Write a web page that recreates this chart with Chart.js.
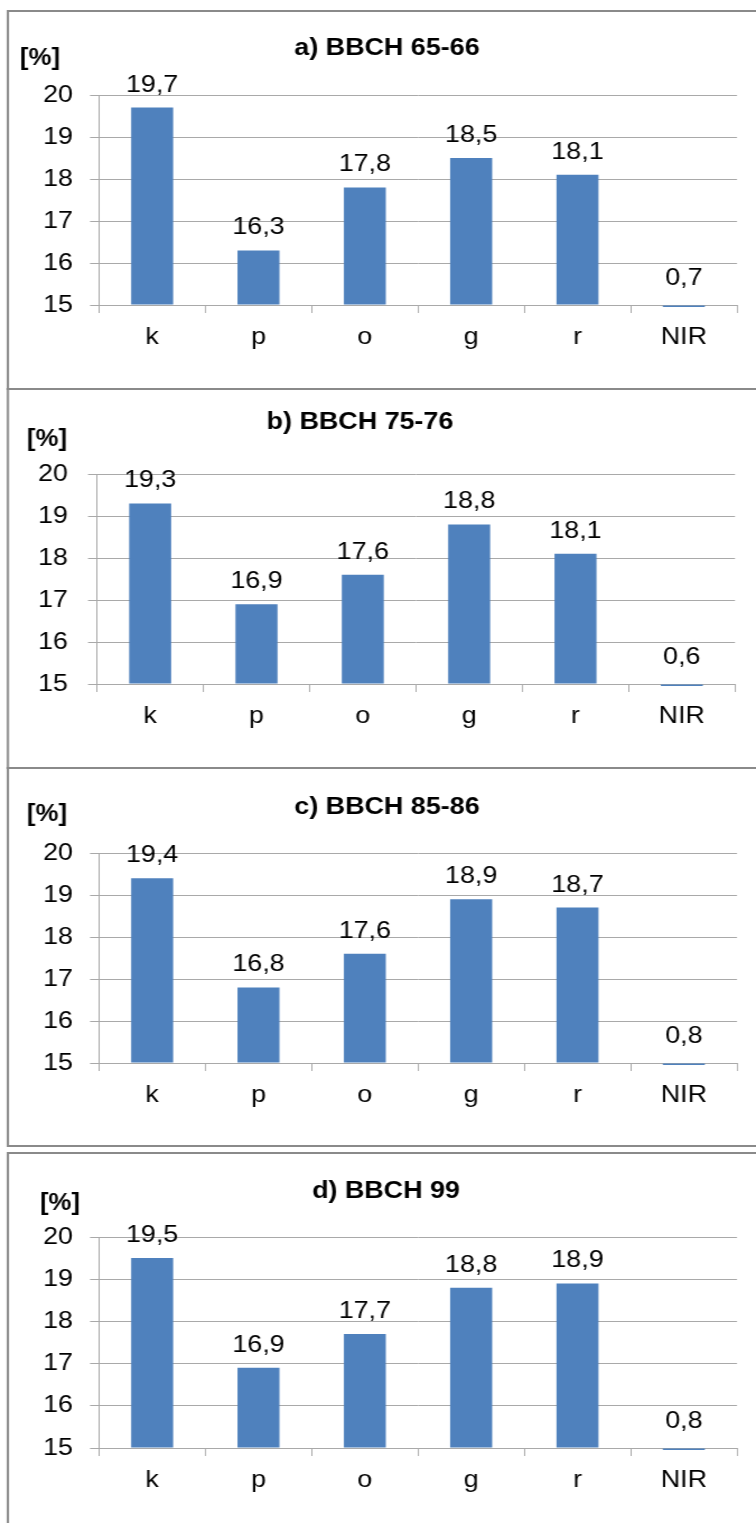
<!DOCTYPE html>
<html><head><meta charset="utf-8">
<script src="https://cdn.jsdelivr.net/npm/chart.js@4.4.1/dist/chart.umd.min.js"></script>
<style>
html,body{margin:0;padding:0;background:#fff;overflow:hidden;width:756px;height:1523px;}
#wrap{position:absolute;left:0;top:0;width:675px;height:1523px;transform:scaleX(1.12);transform-origin:0 0;}
.box{position:absolute;border:2px solid #8a8a8a;box-sizing:border-box;}
canvas{position:absolute;}
</style></head><body><div id="wrap"></div>
<script>
// ---- data ----
const categories = ['k', 'p', 'o', 'g', 'r', 'NIR'];
const valuesA = [19.7, 16.3, 17.8, 18.5, 18.1, 0.7];
const valuesB = [19.3, 16.9, 17.6, 18.8, 18.1, 0.6];
const valuesC = [19.4, 16.8, 17.6, 18.9, 18.7, 0.8];
const valuesD = [19.5, 16.9, 17.7, 18.8, 18.9, 0.8];
const titles = ['a) BBCH 65-66', 'b) BBCH 75-76', 'c) BBCH 85-86', 'd) BBCH 99'];
const yMin = 15;
const yMax = 20;
const yStep = 1;
const unitLabel = '[%]';

// ---- layout (reference pixel coordinates) ----
const S = 1.12;
const FONT = '"Liberation Sans", Arial, sans-serif';
const BAR = '#4F81BD';
const GRID = '#a9a9a9';
const panels = [
  {values: valuesA, title: titles[0], top: 11, h: 378, plotL: 99, plotR: 737, plotT: 95, plotB: 305, titleX: 387, titleY: 48.7, unitX: 20, unitY: 59, tickR: 73, box: [10, 380]},
  {values: valuesB, title: titles[1], top: 389, h: 379, plotL: 97, plotR: 735, plotT: 474, plotB: 684, titleX: 360, titleY: 422.5, unitX: 27, unitY: 440, tickR: 68, box: [388, 381]},
  {values: valuesC, title: titles[2], top: 768, h: 378, plotL: 99, plotR: 737, plotT: 853, plotB: 1063, titleX: 387, titleY: 807, unitX: 27, unitY: 815, tickR: 73, box: [767, 380]},
  {values: valuesD, title: titles[3], top: 1153, h: 370, plotL: 99, plotR: 737, plotT: 1237, plotB: 1448, titleX: 386, titleY: 1191.3, unitX: 40, unitY: 1203.5, tickR: 73, box: [1152, 400]}
];

Chart.defaults.font.family = FONT;
Chart.defaults.color = '#000';

const fmt = v => v.toFixed(1).replace('.', ',');

const valueLabels = {
  id: 'valueLabels',
  afterDatasetsDraw(chart) {
    const {ctx, chartArea} = chart;
    const meta = chart.getDatasetMeta(0);
    const ds = chart.data.datasets[0];
    ctx.save();
    ctx.font = '24px ' + FONT;
    ctx.fillStyle = '#000';
    ctx.textAlign = 'center';
    ctx.textBaseline = 'alphabetic';
    meta.data.forEach((bar, i) => {
      const y = bar.y > chartArea.bottom ? chartArea.bottom - 20 : bar.y - 16;
      ctx.fillText(fmt(ds.data[i]), bar.x, y);
    });
    ctx.restore();
  }
};

const unitText = {
  id: 'unitText',
  afterDraw(chart, args, opts) {
    const ctx = chart.ctx;
    ctx.save();
    ctx.font = 'bold 23px ' + FONT;
    ctx.fillStyle = '#000';
    ctx.textAlign = 'left';
    ctx.textBaseline = 'middle';
    ctx.fillText(opts.text, opts.x, opts.y);
    ctx.restore();
  }
};

const wrap = document.getElementById('wrap');
panels.forEach(p => {
  const box = document.createElement('div');
  box.className = 'box';
  box.style.left = (7 / S) + 'px';
  box.style.top = p.box[0] + 'px';
  box.style.width = '700px';
  box.style.height = p.box[1] + 'px';
  wrap.appendChild(box);

  const PL = p.plotL / S, PR = p.plotR / S, TC = p.titleX / S;
  const sumLP = 2 * TC - PR;              // canvas left + left padding
  const L = Math.floor(Math.min(0, sumLP));
  const pl = sumLP - L;
  const CW = Math.round(PR - L + 10);
  const pr = CW - (PR - L);
  const Yw = PL - L - pl;
  const chartTop = p.plotT - p.top;
  const chartBottom = p.plotB - p.top;
  const Xh = p.h - chartBottom;
  const tY = p.titleY - p.top;
  const lh = 24 * 1.2;

  const cv = document.createElement('canvas');
  cv.width = CW; cv.height = p.h;
  cv.style.left = L + 'px';
  cv.style.top = p.top + 'px';
  wrap.appendChild(cv);

  new Chart(cv, {
    type: 'bar',
    data: {
      labels: categories,
      datasets: [{
        data: p.values,
        backgroundColor: BAR,
        borderWidth: 0,
        base: yMin,
        categoryPercentage: 1,
        barPercentage: 0.395,
        clip: {left: 0, top: 0, right: 0, bottom: 2}
      }]
    },
    options: {
      responsive: false,
      animation: false,
      devicePixelRatio: 1,
      layout: {padding: {left: pl, right: pr, top: 0, bottom: 0}},
      plugins: {
        legend: {display: false},
        tooltip: {enabled: false},
        title: {
          display: true,
          text: p.title,
          color: '#000',
          font: {size: 24, weight: 'bold', lineHeight: 1.2, family: FONT},
          padding: {top: tY - lh / 2, bottom: chartTop - tY - lh / 2}
        },
        unitText: {text: unitLabel, x: p.unitX / S - L, y: p.unitY - p.top}
      },
      scales: {
        x: {
          grid: {offset: true, drawOnChartArea: false, drawTicks: true, tickLength: 8, color: GRID},
          border: {display: true, color: GRID},
          ticks: {font: {size: 24}, color: '#000', padding: 10, maxRotation: 0},
          afterFit: s => { s.height = Xh; }
        },
        y: {
          min: yMin, max: yMax,
          grid: {color: GRID, tickLength: 8, drawTicks: true},
          border: {display: true, color: GRID},
          ticks: {stepSize: yStep, font: {size: 24}, color: '#000', padding: PL - 8 - p.tickR / S},
          afterFit: s => { s.width = Yw; }
        }
      }
    },
    plugins: [valueLabels, unitText]
  });
});
</script>
</body></html>
